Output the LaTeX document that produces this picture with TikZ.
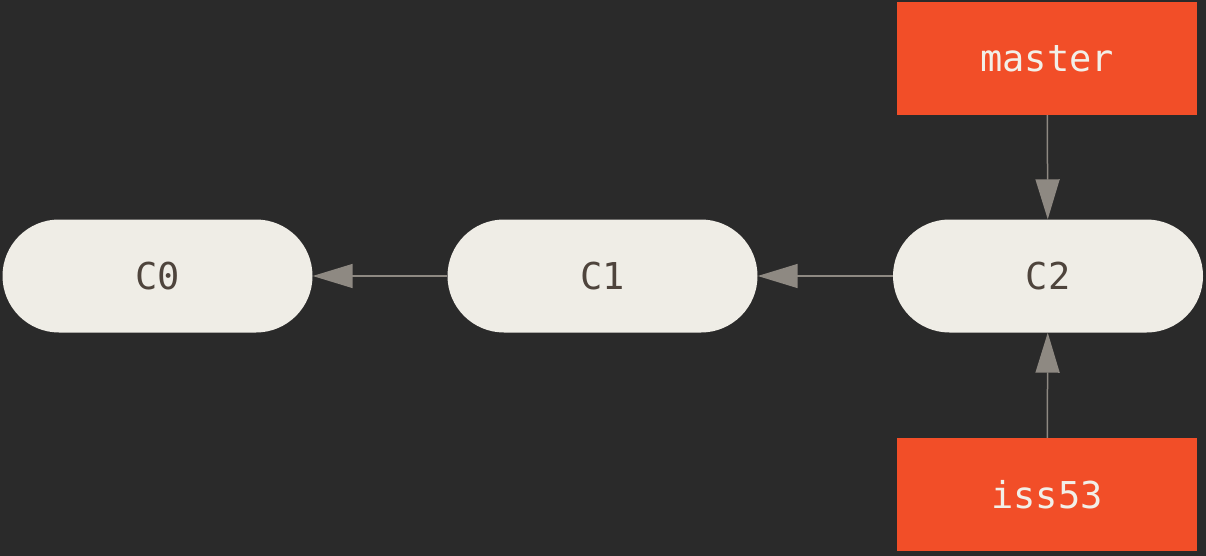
\documentclass[tikz,border=0pt]{standalone}
\usepackage{fontspec}
\setmonofont{DejaVu Sans Mono}
\usetikzlibrary{arrows.meta}
\definecolor{bg}{HTML}{2A2A2A}
\definecolor{pill}{HTML}{EFEDE6}
\definecolor{pilltext}{HTML}{4E443C}
\definecolor{branch}{HTML}{F24E28}
\definecolor{branchtext}{HTML}{F2EFE8}
\definecolor{arrowc}{HTML}{8E8982}
\begin{document}
\begin{tikzpicture}[x=1pt,y=-1pt,
  commit/.style={draw=none,fill=pill,rounded corners=56.5pt,minimum width=310pt,minimum height=113pt,inner sep=0pt,
     font=\ttfamily\fontsize{37}{40}\selectfont,text=pilltext},
  branchbox/.style={draw=none,fill=branch,minimum width=300pt,minimum height=113pt,inner sep=0pt,
     font=\ttfamily\fontsize{37}{40}\selectfont,text=branchtext},
  link/.style={draw=arrowc,line width=1.5pt,-{Triangle[length=40pt,width=24pt]}}]
\fill[bg] (0,0) rectangle (1206,556);
\useasboundingbox (0,0) rectangle (1206,556);
\node[commit] (c0) at (157.5,276) {C0};
\node[commit] (c1) at (602.5,276) {C1};
\node[commit] (c2) at (1048,276) {C2};
\node[branchbox] (master) at (1047,58.5) {master};
\node[branchbox] (iss) at (1047,494.5) {iss53};
\draw[link] (c1) -- (c0);
\draw[link] (c2) -- (c1);
\draw[link] (master) -- (c2);
\draw[link] (iss) -- (c2);
\end{tikzpicture}
\end{document}
